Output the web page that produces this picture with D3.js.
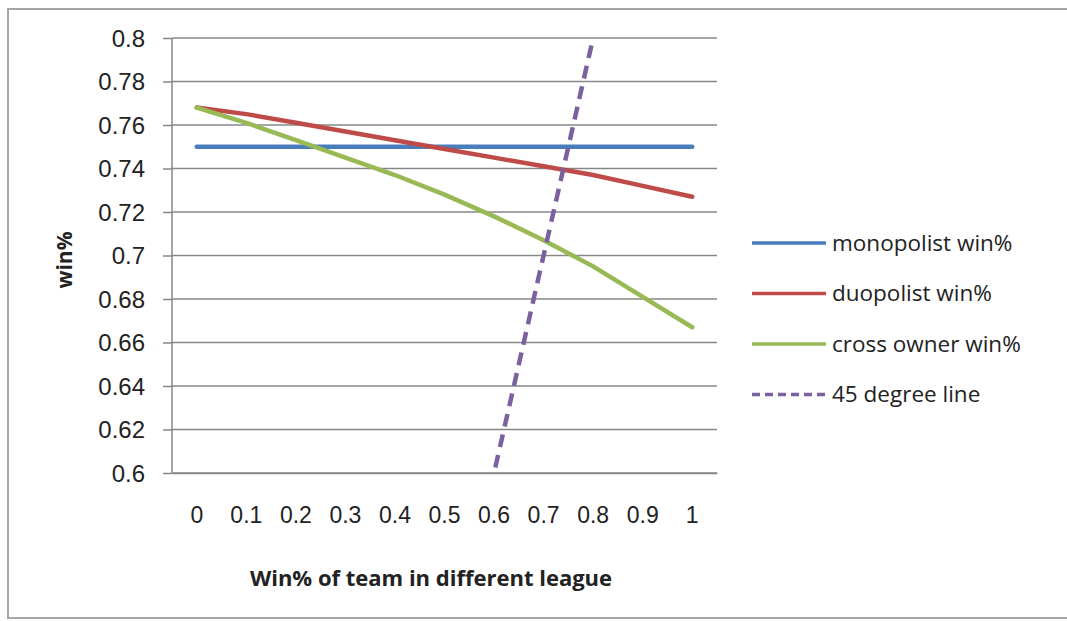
<!DOCTYPE html>
<html>
<head>
<meta charset="utf-8">
<script src="https://cdn.jsdelivr.net/npm/d3@7"></script>
<style>
    body { margin: 0; background: #fff; }
    svg { display: block; font-family: 'Open Sans', sans-serif; }
    .tick text { fill: #222; }
</style>
</head>
<body>
<div id="wrapper"></div>
<script>
// data
var categories = ['0', '0.1', '0.2', '0.3', '0.4', '0.5', '0.6', '0.7', '0.8', '0.9', '1'];
var monopolist = [0.75, 0.75, 0.75, 0.75, 0.75, 0.75, 0.75, 0.75, 0.75, 0.75, 0.75];
var duopolist = [0.768, 0.765, 0.761, 0.757, 0.753, 0.749, 0.745, 0.741, 0.737, 0.732, 0.727];
var cross_owner = [0.768, 0.761, 0.753, 0.745, 0.737, 0.728, 0.718, 0.707, 0.695, 0.681, 0.667];
var degree_line = [0, 0.1, 0.2, 0.3, 0.4, 0.5, 0.6, 0.7, 0.8, 0.9, 1];
var y_ticks = [0.6, 0.62, 0.64, 0.66, 0.68, 0.7, 0.72, 0.74, 0.76, 0.78, 0.8];

var series = [
    {name: 'monopolist win%', values: monopolist, color: '#4a7ebb', dash: null},
    {name: 'duopolist win%', values: duopolist, color: '#be4b48', dash: null},
    {name: 'cross owner win%', values: cross_owner, color: '#98b954', dash: null},
    {name: '45 degree line', values: degree_line, color: '#7d60a0', dash: '13,8'}
];

var WIDTH = 1067, HEIGHT = 621;
var PLOT = {left: 172, right: 717, top: 38, bottom: 473};
var GRID_COLOR = '#878787';

var svg = d3.select('#wrapper').append('svg')
    .attr('width', WIDTH)
    .attr('height', HEIGHT);

// chart area border (right edge runs off the picture)
svg.append('rect')
    .attr('x', 8).attr('y', 9)
    .attr('width', 1070).attr('height', 609)
    .attr('fill', '#fff')
    .attr('stroke', '#a6a6a6')
    .attr('stroke-width', 2);

var scale_x = d3.scaleBand()
    .domain(categories)
    .range([PLOT.left, PLOT.right]);
var scale_y = d3.scaleLinear()
    .domain([0.6, 0.8])
    .range([PLOT.bottom, PLOT.top]);

// gridlines
svg.append('g')
    .selectAll('line')
    .data(y_ticks)
    .enter()
  .append('line')
    .attr('x1', PLOT.left)
    .attr('x2', PLOT.right)
    .attr('y1', function(d) {return scale_y(d);})
    .attr('y2', function(d) {return scale_y(d);})
    .attr('stroke', GRID_COLOR)
    .attr('stroke-width', 1.5);

// y axis
var axis_y = d3.axisLeft(scale_y)
    .tickValues(y_ticks)
    .tickSize(9)
    .tickPadding(18)
    .tickFormat(function(d) {return String(+d.toFixed(2));});
var y_axis = svg.append('g')
    .attr('transform', 'translate(' + PLOT.left + ',0)')
    .call(axis_y);
y_axis.selectAll('line, path').attr('stroke', GRID_COLOR).attr('stroke-width', 1.5);
y_axis.select('.domain').attr('d', 'M0,' + PLOT.top + 'V' + PLOT.bottom);
y_axis.selectAll('text').style('font-size', '24px').attr('dy', '0.35em');

// x axis
var axis_x = d3.axisBottom(scale_x)
    .tickSize(0)
    .tickPadding(36);
var x_axis = svg.append('g')
    .attr('transform', 'translate(0,' + PLOT.bottom + ')')
    .call(axis_x);
x_axis.select('.domain').attr('stroke', GRID_COLOR).attr('stroke-width', 1.5);
x_axis.selectAll('text').style('font-size', '23px').attr('dy', '0.6em');

// clip for the series
svg.append('clipPath')
    .attr('id', 'plot-clip')
  .append('rect')
    .attr('x', PLOT.left).attr('y', PLOT.top)
    .attr('width', PLOT.right - PLOT.left)
    .attr('height', PLOT.bottom - PLOT.top);

var line = d3.line()
    .x(function(d, i) {return scale_x(categories[i]) + scale_x.bandwidth() / 2;})
    .y(function(d) {return scale_y(d);});

svg.append('g')
    .attr('clip-path', 'url(#plot-clip)')
    .selectAll('path')
    .data(series)
    .enter()
  .append('path')
    .attr('d', function(d) {return line(d.values);})
    .attr('fill', 'none')
    .attr('stroke', function(d) {return d.color;})
    .attr('stroke-width', 4.5)
    .attr('stroke-linecap', function(d) {return d.dash ? 'butt' : 'round';})
    .attr('stroke-dasharray', function(d) {return d.dash;});

// axis titles
svg.append('text')
    .attr('x', 431)
    .attr('y', 586)
    .attr('text-anchor', 'middle')
    .style('font-size', '22px')
    .style('font-weight', 'bold')
    .attr('fill', '#222')
    .text('Win% of team in different league');
svg.append('text')
    .attr('transform', 'translate(72,260) rotate(-90)')
    .attr('text-anchor', 'middle')
    .style('font-size', '21px')
    .style('font-weight', 'bold')
    .attr('fill', '#222')
    .text('win%');

// legend
var legend = svg.append('g')
    .selectAll('g')
    .data(series)
    .enter()
  .append('g')
    .attr('transform', function(d, i) {return 'translate(752,' + (243 + i * 50.5) + ')';});
legend.append('line')
    .attr('x1', 0).attr('x2', 74)
    .attr('stroke', function(d) {return d.color;})
    .attr('stroke-width', 3.5)
    .attr('stroke-dasharray', function(d) {return d.dash ? '8,5' : null;});
legend.append('text')
    .attr('x', 80)
    .attr('dy', '0.35em')
    .style('font-size', '22.5px')
    .attr('fill', '#222')
    .text(function(d) {return d.name;});
</script>
</body>
</html>
